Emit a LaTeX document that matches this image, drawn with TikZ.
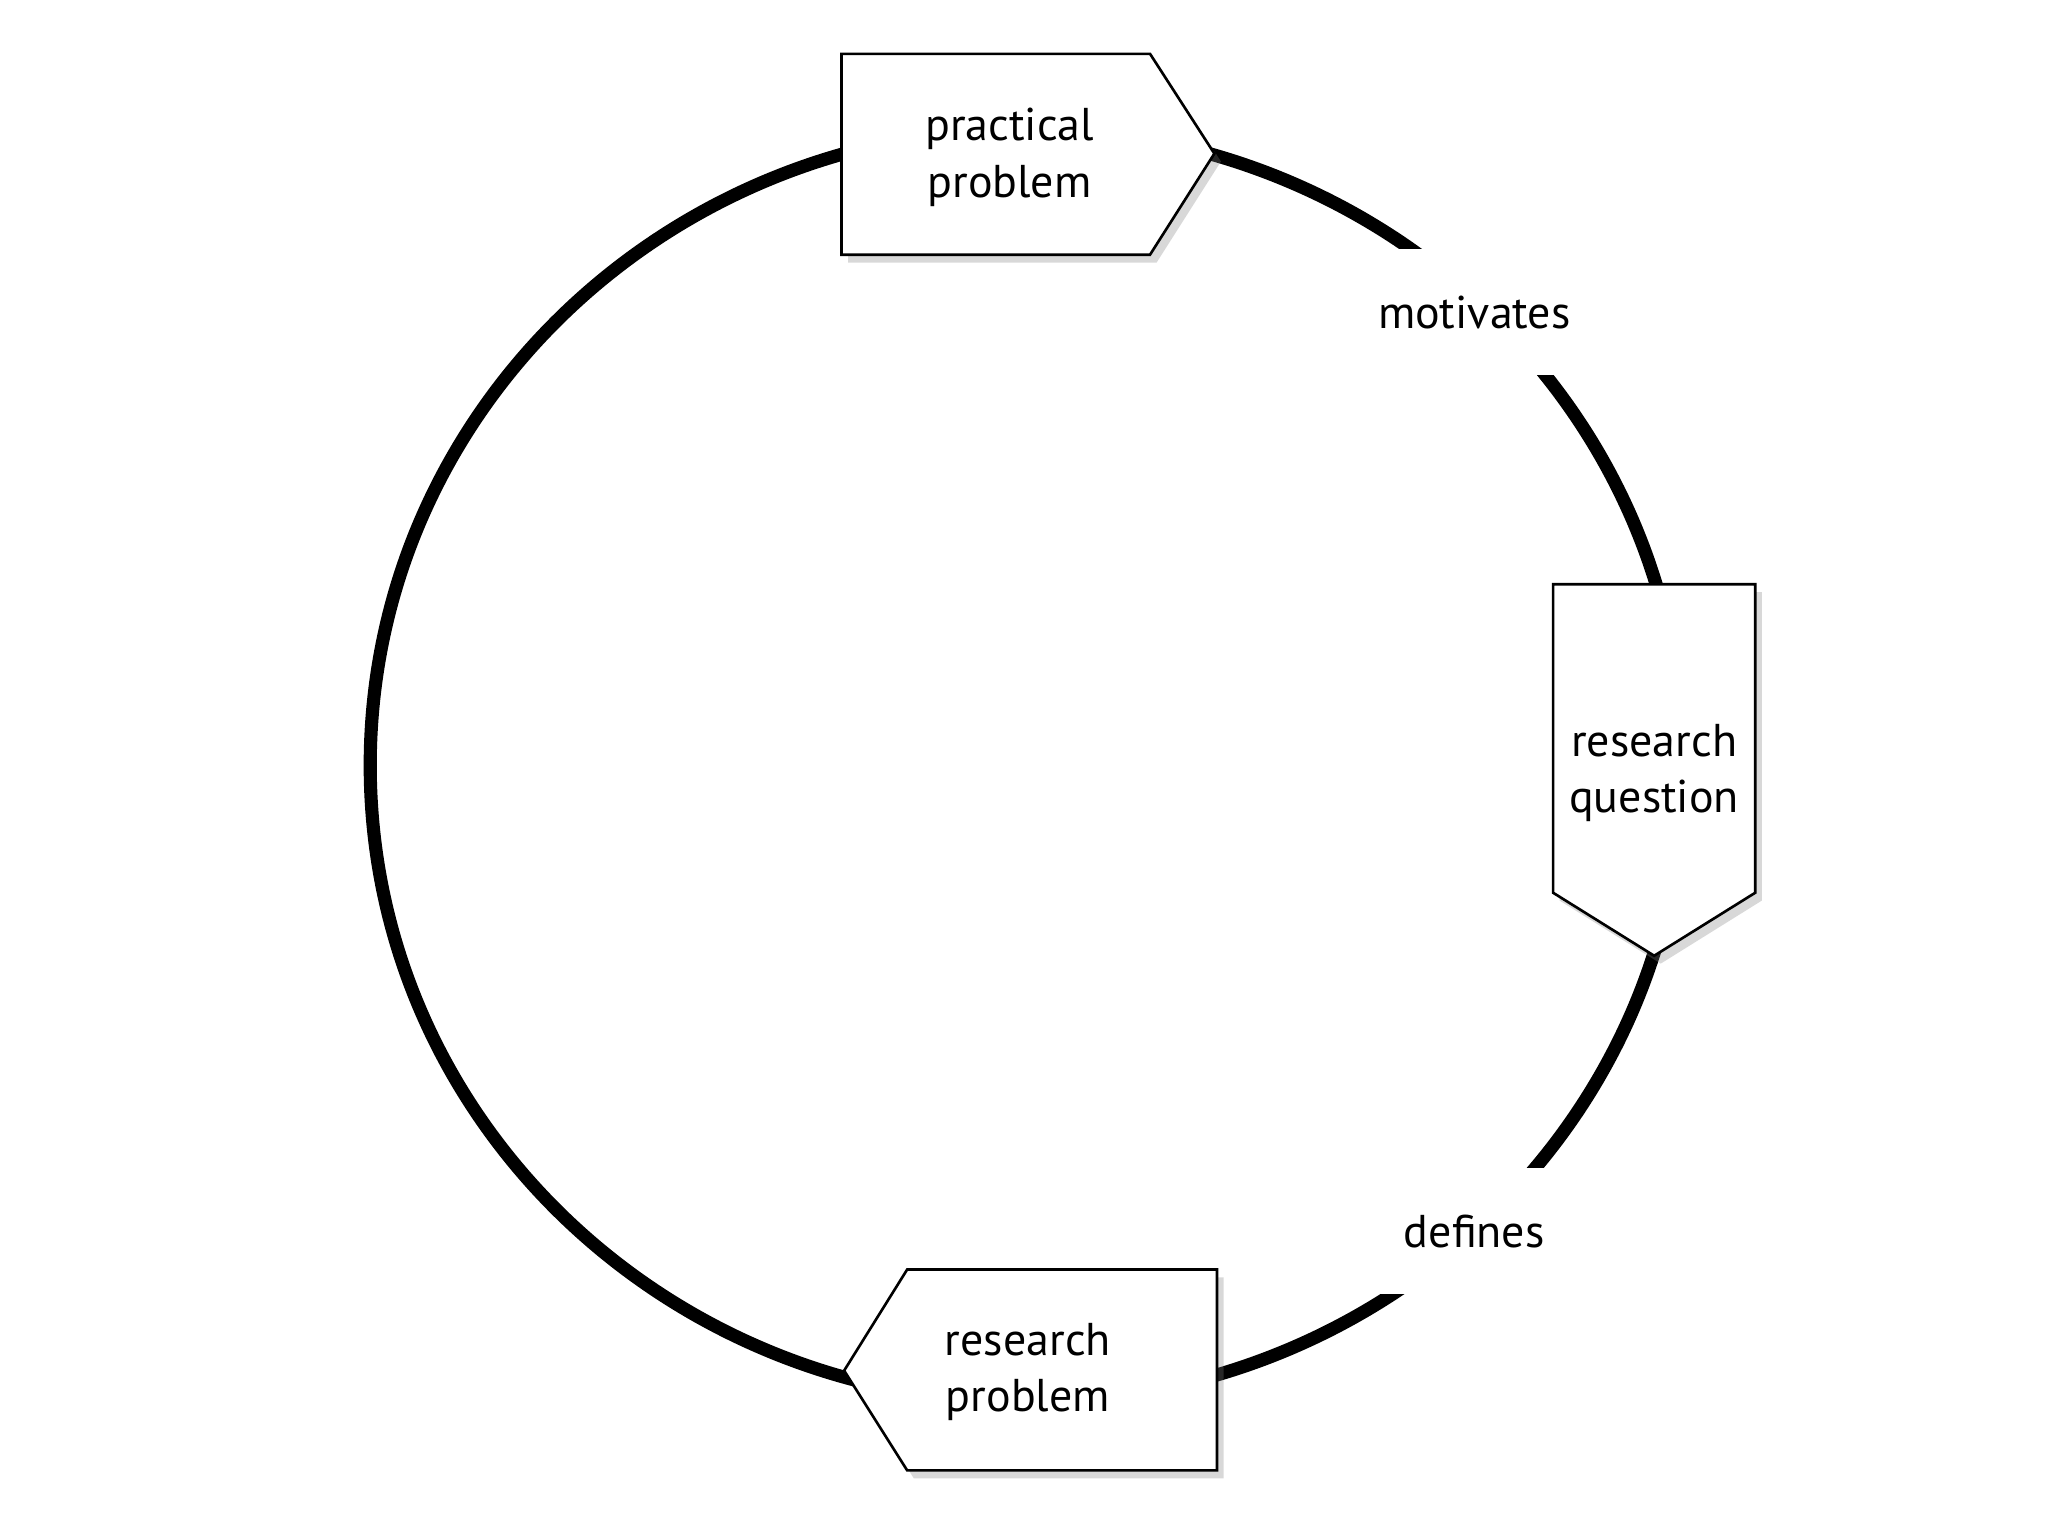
\documentclass[tikz,border=0pt]{standalone}
\usepackage{fontspec}
\setmainfont{PT Sans}
\usetikzlibrary{shadows}
\begin{document}
\begin{tikzpicture}[x=1pt,y=-1pt,
  lbl/.style={font=\fontsize{35}{43}\selectfont, align=center},
  gapbox/.style={lbl, fill=white, inner sep=12pt},
  shp/.style={draw, line width=2pt, fill=white, drop shadow={shadow xshift=5pt, shadow yshift=-6pt, opacity=0.3}}]
\useasboundingbox (0,0) rectangle (1560,1170);
\fill[white] (0,0) rectangle (1560,1170);
\draw[line width=10pt] (782,583) ellipse [x radius=500pt, y radius=485pt];
\coordinate (c) at (782,583);
\node[gapbox, minimum width=200pt, minimum height=96pt] (mot) at (1123,238) {motivates};
\node[gapbox, minimum width=200pt, minimum height=96pt] (def) at (1123,938) {defines};
\path[shp] (641,41) -- (876,41) -- (925,117) -- (876,194) -- (641,194) -- cycle;
\path[shp] (1183,445) -- (1337,445) -- (1337,680) -- (1260,728) -- (1183,680) -- cycle;
\path[shp] (691,967) -- (927,967) -- (927,1120) -- (691,1120) -- (643,1044) -- cycle;
\node[lbl] (pp) at (769,120) {practical\\problem};
\node[lbl] (rq) at (1260,589) {research\\question};
\node[lbl] (rp) at (783,1045) {research\\problem};
\end{tikzpicture}
\end{document}
